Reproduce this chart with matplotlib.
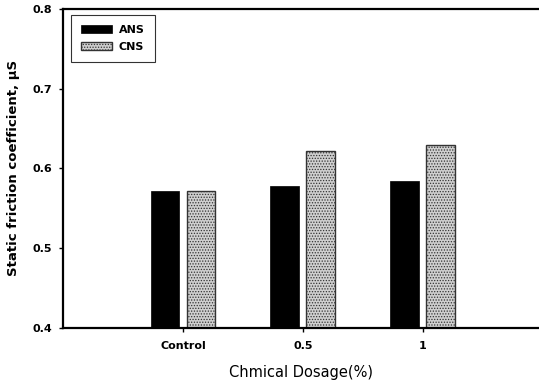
import matplotlib
matplotlib.use('Agg')
import matplotlib.pyplot as plt
import numpy as np

# values
categories = ['Control', '0.5', '1']
ans = [0.571, 0.578, 0.584]
cns = [0.571, 0.622, 0.629]
y_ticks = [0.4, 0.5, 0.6, 0.7, 0.8]

plt.rcParams['font.family'] = ['DejaVu Sans']
plt.rcParams['hatch.color'] = '#707070'
plt.rcParams['hatch.linewidth'] = 0.6

fig = plt.figure(figsize=(5.39, 3.84), dpi=100)
ax = fig.add_axes([0.117, 0.147, 0.883, 0.83])

x = np.arange(len(categories))
w = 0.24
ax.bar(x - 0.15, ans, w, color='black', edgecolor='black', linewidth=0.5, label='ANS')
ax.bar(x + 0.15, cns, w, color='#cfcfcf', edgecolor='#333333', linewidth=1.0,
       hatch='......', label='CNS')

ax.set_xlim(-1.0, 2.97)
ax.set_ylim(0.4, 0.8)
ax.set_yticks(y_ticks)
ax.set_yticklabels(['%.1f' % v for v in y_ticks], fontweight='bold', fontsize=8)
ax.set_xticks(x)
ax.set_xticklabels(categories, fontweight='bold', fontsize=8)
ax.tick_params(axis='both', direction='out', length=3, width=1)
ax.tick_params(axis='y', pad=5)
ax.tick_params(axis='x', pad=7)

for s in ['left', 'bottom', 'top']:
    ax.spines[s].set_linewidth(1.6)
ax.spines['right'].set_visible(False)

ax.set_ylabel('Static friction coefficient, \u03bcS', fontweight='bold', fontsize=9.5, labelpad=9)
ax.set_xlabel('Chmical Dosage(%)', fontsize=10.5, labelpad=10)

leg = ax.legend(loc='upper left', bbox_to_anchor=(0.012, 0.987), fancybox=False,
                edgecolor='black', prop={'weight': 'bold', 'size': 8},
                handlelength=2.8, handleheight=0.75, borderpad=0.9, labelspacing=0.6,
                handletextpad=0.6, borderaxespad=0.2)
leg.get_frame().set_linewidth(0.8)

fig.savefig('out.png', dpi=100)
